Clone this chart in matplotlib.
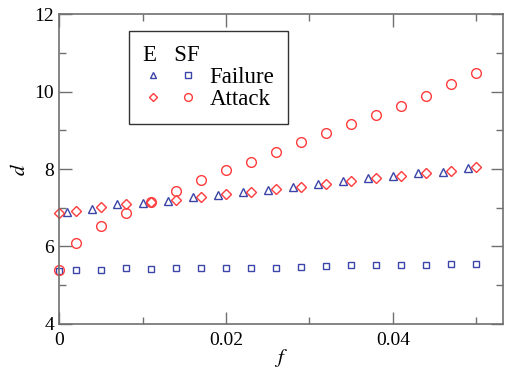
import matplotlib
matplotlib.use("Agg")
import matplotlib.pyplot as plt
from matplotlib.ticker import MultipleLocator
from matplotlib.legend_handler import HandlerTuple

plt.rcParams['font.family'] = ['Liberation Serif', 'DejaVu Serif']
plt.rcParams['mathtext.fontset'] = 'stix'

# f values
f_sf = [0, 0.002, 0.005, 0.008, 0.011, 0.014, 0.017, 0.020, 0.023, 0.026,
        0.029, 0.032, 0.035, 0.038, 0.041, 0.044, 0.047, 0.050]
f_tri = [0.001, 0.004, 0.007, 0.010, 0.013, 0.016, 0.019, 0.022, 0.025,
         0.028, 0.031, 0.034, 0.037, 0.040, 0.043, 0.046, 0.049]

# E failure (triangles)
e_failure = [6.90, 6.96, 7.09, 7.13, 7.18, 7.27, 7.33, 7.40, 7.46,
             7.54, 7.61, 7.70, 7.76, 7.82, 7.90, 7.93, 8.02]
# E attack (diamonds)
e_attack = [6.86, 6.92, 7.01, 7.09, 7.14, 7.20, 7.27, 7.35, 7.41,
            7.48, 7.54, 7.61, 7.70, 7.78, 7.82, 7.90, 7.96, 8.04]
# SF failure (squares)
sf_failure = [5.38, 5.39, 5.39, 5.44, 5.42, 5.44, 5.45, 5.44, 5.45,
              5.45, 5.48, 5.49, 5.51, 5.51, 5.53, 5.53, 5.55, 5.56]
# SF attack (circles)
sf_attack = [5.39, 6.08, 6.54, 6.87, 7.16, 7.44, 7.72, 7.97, 8.17,
             8.44, 8.69, 8.94, 9.16, 9.39, 9.62, 9.89, 10.19, 10.49]

blue = '#3b44a8'
red = '#ff3b3b'

fig = plt.figure(figsize=(5.05, 3.69), dpi=100)
ax = fig.add_axes([0.117, 0.122, 0.879, 0.84])

tri, = ax.plot(f_tri, e_failure, linestyle='none', marker='^', ms=6,
               mfc='none', mec=blue, mew=1.0, clip_on=False)
sq, = ax.plot(f_sf, sf_failure, linestyle='none', marker='s', ms=5,
              mfc='none', mec=blue, mew=1.0, clip_on=False)
dia, = ax.plot(f_sf, e_attack, linestyle='none', marker='D', ms=5.5,
               mfc='none', mec=red, mew=1.0, clip_on=False)
circ, = ax.plot(f_sf, sf_attack, linestyle='none', marker='o', ms=7,
                mfc='none', mec=red, mew=1.0, clip_on=False)

ax.set_xlim(0, 0.0532)
ax.set_ylim(4, 12)
ax.xaxis.set_major_locator(MultipleLocator(0.02))
ax.xaxis.set_minor_locator(MultipleLocator(0.01))
ax.yaxis.set_major_locator(MultipleLocator(2))
ax.yaxis.set_minor_locator(MultipleLocator(1))
ax.xaxis.set_major_formatter(plt.FuncFormatter(lambda v, p: '0' if v == 0 else f'{v:g}'))
ax.yaxis.set_major_formatter(plt.FuncFormatter(lambda v, p: f'{v:g}'))

ax.tick_params(which='both', direction='in', top=True, right=True,
               labelsize=14, color='#707070')
ax.tick_params(which='major', length=9, width=1)
ax.tick_params(which='minor', length=5, width=1)
ax.tick_params(axis='x', pad=6)
for s in ax.spines.values():
    s.set_color('#707070')
    s.set_linewidth(1.2)

ax.set_xlabel('$f$', fontsize=15, labelpad=-2)
ax.set_ylabel('$d$', fontsize=15, labelpad=3)

leg = ax.legend([(tri, sq), (dia, circ)], ['Failure', 'Attack'],
                handler_map={tuple: HandlerTuple(ndivide=None, pad=0.6)},
                title='E   SF', title_fontsize=16.5, fontsize=16.5,
                alignment='left', loc='upper left',
                bbox_to_anchor=(0.158, 0.945), borderaxespad=0,
                frameon=True, fancybox=False,
                edgecolor='black', handlelength=2.4, handletextpad=0.5,
                borderpad=0.6, labelspacing=0.05, markerscale=0.8)
leg.get_frame().set_linewidth(1.0)

fig.savefig('out.png', dpi=100)
